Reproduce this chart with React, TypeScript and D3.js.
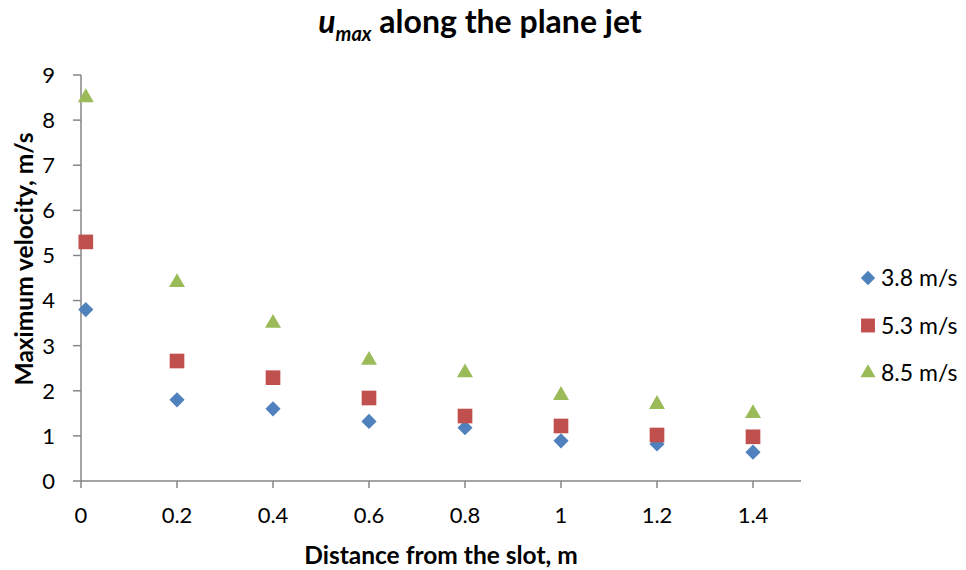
import React from 'react'
import * as d3 from 'd3'

const distances = [0.01, 0.2, 0.4, 0.6, 0.8, 1.0, 1.2, 1.4]
const v38 = [3.8, 1.8, 1.6, 1.32, 1.18, 0.89, 0.82, 0.64]
const v53 = [5.3, 2.66, 2.29, 1.84, 1.44, 1.22, 1.02, 0.98]
const v85 = [8.5, 4.4, 3.5, 2.68, 2.4, 1.9, 1.7, 1.5]
const seriesNames = ['3.8 m/s', '5.3 m/s', '8.5 m/s']
const xTicks = [0, 0.2, 0.4, 0.6, 0.8, 1, 1.2, 1.4]
const yTicks = [0, 1, 2, 3, 4, 5, 6, 7, 8, 9]

const W = 966
const H = 570
const font = 'Lato, "Open Sans", sans-serif'
const axisColor = '#868686'

export default function App () {
  const x = d3.scaleLinear().domain([0, 1.5]).range([81, 801])
  const y = d3.scaleLinear().domain([0, 9]).range([481, 75])

  // diamond = square turned by 45 degrees, like Excel's marker
  const series = [
    { name: seriesNames[0], values: v38, color: '#4F81BD', shape: d3.symbolSquare, size: 115, rot: 45 },
    { name: seriesNames[1], values: v53, color: '#C0504D', shape: d3.symbolSquare, size: 215, rot: 0 },
    { name: seriesNames[2], values: v85, color: '#9BBB59', shape: d3.symbolTriangle, size: 110, rot: 0 }
  ]

  const sym = (s, k = 1) => d3.symbol().type(s.shape).size(s.size * k)()

  return (
    <svg width={W} height={H} style={{ position: 'absolute', left: 0, top: 0, background: '#fff' }} fontFamily={font}>
      <text x={480} y={33} textAnchor='middle' fontSize={32} fontWeight='bold'>
        <tspan fontStyle='italic'>u</tspan>
        <tspan fontStyle='italic' fontSize={20} dy={8}>max</tspan>
        <tspan dy={-8}> along the plane jet</tspan>
      </text>

      {/* axes */}
      <line x1={x(0)} x2={x(0)} y1={y(9)} y2={y(0)} stroke={axisColor} strokeWidth={1.5} />
      <line x1={x(0)} x2={x(1.5)} y1={y(0)} y2={y(0)} stroke={axisColor} strokeWidth={1.5} />
      {yTicks.map(t => (
        <g key={'y' + t}>
          <line x1={x(0) - 8} x2={x(0)} y1={y(t)} y2={y(t)} stroke={axisColor} strokeWidth={1.5} />
          <text x={x(0) - 26} y={y(t)} dy='0.36em' textAnchor='end' fontSize={22}>{t}</text>
        </g>
      ))}
      {xTicks.map(t => (
        <g key={'x' + t}>
          <line x1={x(t)} x2={x(t)} y1={y(0)} y2={y(0) + 7} stroke={axisColor} strokeWidth={1.5} />
          <text x={x(t)} y={y(0) + 42} textAnchor='middle' fontSize={22}>{String(t)}</text>
        </g>
      ))}

      <text x={441} y={564} textAnchor='middle' fontSize={24.5} fontWeight='bold'>Distance from the slot, m</text>
      <text transform='translate(33,259) rotate(-90)' textAnchor='middle' fontSize={24.5} fontWeight='bold'>Maximum velocity, m/s</text>

      {/* points */}
      {series.map(s => (
        <g key={s.name} fill={s.color}>
          {s.values.map((v, i) => (
            <path key={i} d={sym(s)} transform={`translate(${x(distances[i])},${y(v)}) rotate(${s.rot})`} />
          ))}
        </g>
      ))}

      {/* legend */}
      {series.map((s, i) => (
        <g key={'l' + s.name} transform={`translate(0,${278 + i * 47.5})`}>
          <path d={sym(s, 0.9)} fill={s.color} transform={`translate(868,0) rotate(${s.rot})`} />
          <text x={881} y={0} dy='0.36em' fontSize={23}>{s.name}</text>
        </g>
      ))}
    </svg>
  )
}
